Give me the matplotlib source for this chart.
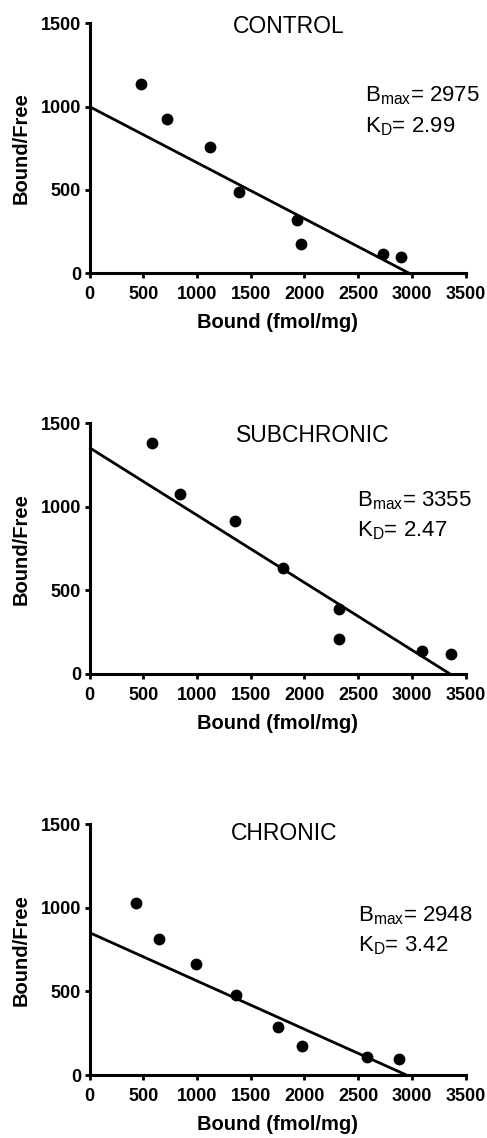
import matplotlib
matplotlib.use("Agg")
import matplotlib.pyplot as plt

plt.rcParams['font.family'] = ['Liberation Sans', 'DejaVu Sans']

titles = ["CONTROL", "SUBCHRONIC", "CHRONIC"]

control_x = [480, 725, 1122, 1389, 1928, 1968, 2728, 2898]
control_y = [1136, 924, 760, 490, 320, 174, 116, 100]
subchronic_x = [583, 843, 1355, 1801, 2325, 2325, 3097, 3360]
subchronic_y = [1384, 1075, 918, 634, 387, 207, 138, 118]
chronic_x = [437, 645, 989, 1367, 1751, 1975, 2585, 2880]
chronic_y = [1031, 814, 662, 479, 287, 172, 108, 96]

# Fitted lines: intercept on y and Bmax on x
bmax = [2975, 3355, 2948]
kd = [2.99, 2.47, 3.42]
y_intercepts = [1000, 1354, 852]

xs = [control_x, subchronic_x, chronic_x]
ys = [control_y, subchronic_y, chronic_y]

xticks = [0, 500, 1000, 1500, 2000, 2500, 3000, 3500]
yticks = [0, 500, 1000, 1500]

W, H = 487, 1138
fig = plt.figure(figsize=(W / 100, H / 100), dpi=100)

left = 89.5 / W
width = (465.7 - 89.5) / W
tops = [23.3, 423.3, 824.3]
bottoms = [273.3, 674.0, 1075.0]

title_pos = [(0.53, 0.961), (0.594, 0.927), (0.517, 0.937)]
bmax_pos = [(0.732, 0.686), (0.712, 0.670), (0.715, 0.611)]
kd_pos = [(0.732, 0.562), (0.712, 0.550), (0.715, 0.492)]

for i in range(3):
    b = 1 - bottoms[i] / H
    h = (bottoms[i] - tops[i]) / H
    ax = fig.add_axes([left, b, width, h])
    ax.plot([0, bmax[i]], [y_intercepts[i], 0], color='black', lw=2.0,
            solid_capstyle='butt', zorder=2, clip_on=False)
    ax.plot(xs[i], ys[i], 'o', color='black', ms=7.5, zorder=3, clip_on=False)
    ax.set_xlim(0, 3500)
    ax.set_ylim(0, 1500)
    ax.set_xticks(xticks)
    ax.set_yticks(yticks)
    ax.set_xticklabels([str(t) for t in xticks], fontweight='bold', fontsize=13)
    ax.set_yticklabels([str(t) for t in yticks], fontweight='bold', fontsize=13)
    for s in ['top', 'right']:
        ax.spines[s].set_visible(False)
    for s in ['left', 'bottom']:
        ax.spines[s].set_linewidth(2.2)
    ax.tick_params(axis='both', direction='out', length=3.5, width=2.0)
    ax.tick_params(axis='x', pad=6)
    ax.tick_params(axis='y', pad=2.5)
    ax.set_xlabel("Bound (fmol/mg)", fontweight='bold', fontsize=14.5, labelpad=7)
    ax.set_ylabel("Bound/Free", fontweight='bold', fontsize=14.5, labelpad=7)
    ax.text(title_pos[i][0], title_pos[i][1], titles[i], transform=ax.transAxes,
            ha='center', va='baseline', fontsize=16.5)
    ax.text(bmax_pos[i][0], bmax_pos[i][1], r"B$_{\mathregular{max}}$= %d" % bmax[i],
            transform=ax.transAxes, ha='left', va='baseline', fontsize=16)
    ax.text(kd_pos[i][0], kd_pos[i][1], r"K$_{\mathregular{D}}$= %.2f" % kd[i],
            transform=ax.transAxes, ha='left', va='baseline', fontsize=16)

fig.savefig("out.png", dpi=100)
